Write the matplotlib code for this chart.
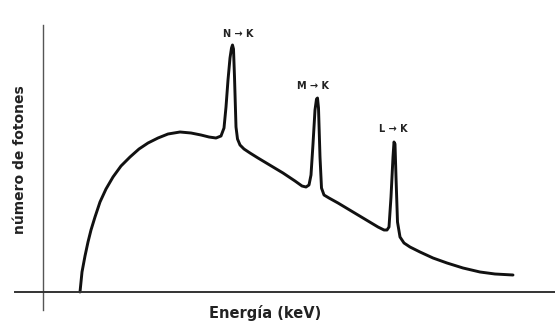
import matplotlib.pyplot as plt

# Espectro de rayos X: continuo (bremsstrahlung) + picos característicos
# energía y número de fotones en unidades arbitrarias
energia = [37, 39, 42, 45, 48, 52, 57, 63, 70, 78, 87, 96, 105, 115, 125,
           137, 148, 158, 166, 173, 178, 181, 183, 185, 187, 188.5, 189.5,
           190.5, 191.5, 193, 194.5, 197, 201, 207, 215, 225, 240, 252, 259,
           263, 266, 268, 270, 272, 273.5, 274.5, 275.5, 277, 278.5, 281, 286,
           295, 310, 325, 335, 341, 344, 346, 348, 350, 351, 352, 353, 354.5,
           357, 361, 367, 377, 390, 404, 420, 437, 452, 470]
fotones = [0, 20, 36, 50, 62, 75, 90, 103, 115, 126, 135, 143, 149, 154,
           158, 160, 159, 157, 155, 154, 156, 164, 185, 212, 234, 244, 247,
           243, 215, 165, 153, 147, 143, 139, 134, 128, 119, 111, 106, 105,
           107, 117, 148, 182, 193, 194, 184, 135, 104, 97, 94, 89, 80, 71,
           65, 62, 62, 65, 95, 135, 150, 148, 115, 70, 55, 49, 45, 40, 34,
           29, 24, 20, 18, 17]

transiciones = ['N → K', 'M → K', 'L → K']
pos_etiquetas = [(195, 258), (270, 206), (350, 163)]

fig = plt.figure(figsize=(5.55, 3.28), dpi=100)
ax = fig.add_axes([15 / 555, 18 / 328, 540 / 555, 285 / 328])

ax.plot(energia, fotones, color='#111111', lw=2.1, solid_joinstyle='round',
        solid_capstyle='round')

for txt, (x, y) in zip(transiciones, pos_etiquetas):
    ax.text(x, y, txt, ha='center', va='center', fontsize=7,
            fontweight='bold', color='#222222')

ax.set_xlim(-28, 512)
ax.set_ylim(-18, 267)

# ejes cruzados en el origen, sin marcas
for s in ['top', 'right']:
    ax.spines[s].set_visible(False)
ax.spines['left'].set_position(('data', 0))
ax.spines['bottom'].set_position(('data', 0))
ax.spines['left'].set_color('#555555')
ax.spines['bottom'].set_color('#333333')
ax.spines['left'].set_linewidth(1.0)
ax.spines['bottom'].set_linewidth(1.4)
ax.set_xticks([])
ax.set_yticks([])
ax.patch.set_alpha(0)

fig.text(265 / 555, 1 - 313 / 328, 'Energía (keV)', ha='center', va='center',
         fontsize=10.5, fontweight='semibold', color='#222222')
fig.text(20 / 555, 1 - 160 / 328, 'número de fotones', ha='center',
         va='center', rotation=90, fontsize=10, fontweight='semibold',
         color='#222222')

fig.savefig('out.png', dpi=100)
